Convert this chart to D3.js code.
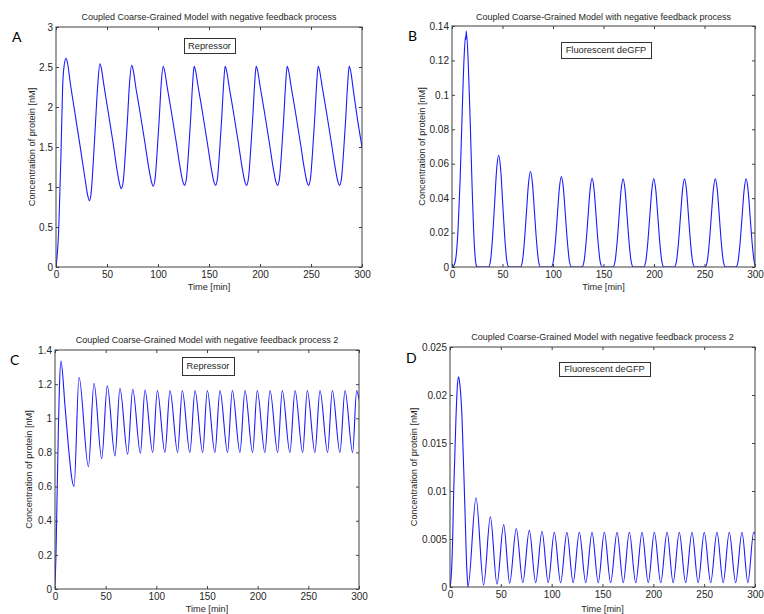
<!DOCTYPE html>
<html>
<head>
<meta charset="utf-8">
<script src="https://cdnjs.cloudflare.com/ajax/libs/d3/7.8.5/d3.min.js"></script>
<style>
	body { margin: 0; background: #fff; }
	svg { display: block; }
	text { font-family: "Liberation Sans", Arial, sans-serif; fill: #262626; }
	.panel-letter { font-family: Lato, "Open Sans", sans-serif; font-size: 14px; fill: #000; }
</style>
</head>
<body>
<svg id="chart" width="764" height="614"></svg>
<script>
var timeTicks = [0, 50, 100, 150, 200, 250, 300];
var yTicksA = [0, 0.5, 1, 1.5, 2, 2.5, 3];
var yTicksB = [0, 0.02, 0.04, 0.06, 0.08, 0.1, 0.12, 0.14];
var yTicksC = [0, 0.2, 0.4, 0.6, 0.8, 1, 1.2, 1.4];
var yTicksD = [0, 0.005, 0.01, 0.015, 0.02, 0.025];

var titleTop = "Coupled Coarse-Grained Model with negative feedback process";
var titleBottom = "Coupled Coarse-Grained Model with negative feedback process 2";
var xLabel = "Time [min]";
var yLabel = "Concentration of protein [nM]";

// [time (min), concentration (nM)]
var repressorA = [
	[0,0],[1.2,0.15],[2.5,0.42],[3.7,0.9],[4.9,1.42],[6.5,2.25],[8,2.52],[9.8,2.61],
	[11.3,2.55],[14,2.3],[18,1.97],[24,1.48],[28.5,1.1],[31,0.9],[32.8,0.83],
	[34.5,0.93],[36.5,1.3],[38.5,1.75],[40.8,2.25],[43,2.54],
	[44.5,2.48],[47,2.27],[51,1.95],[56,1.55],[60,1.2],[62.5,1.03],[64,0.98],
	[66,1.08],[68,1.42],[70,1.83],[72,2.28],[74.2,2.52],
	[75.7,2.46],[78.2,2.25],[82.2,1.95],[87.2,1.55],[91.2,1.22],[93.7,1.06],[95.2,1.01],
	[97.2,1.11],[99.2,1.45],[101.2,1.85],[103.2,2.3],[105,2.51],
	[106.5,2.45],[109,2.25],[113,1.95],[118,1.55],[122,1.22],[124.5,1.06],[126,1.02],
	[128,1.12],[130,1.45],[132,1.85],[134,2.3],[135.4,2.51],
	[136.9,2.45],[139.4,2.25],[143.4,1.95],[148.4,1.55],[152.4,1.22],[154.9,1.06],[156.4,1.02],
	[158.4,1.12],[160.4,1.45],[162.4,1.85],[164.4,2.3],[165.8,2.51],
	[167.3,2.45],[169.8,2.25],[173.8,1.95],[178.8,1.55],[182.8,1.22],[185.3,1.06],[186.8,1.02],
	[188.8,1.12],[190.8,1.45],[192.8,1.85],[194.8,2.3],[196.2,2.51],
	[197.7,2.45],[200.2,2.25],[204.2,1.95],[209.2,1.55],[213.2,1.22],[215.7,1.06],[217.2,1.02],
	[219.2,1.12],[221.2,1.45],[223.2,1.85],[225.2,2.3],[226.6,2.51],
	[228.1,2.45],[230.6,2.25],[234.6,1.95],[239.6,1.55],[243.6,1.22],[246.1,1.06],[247.6,1.02],
	[249.6,1.12],[251.6,1.45],[253.6,1.85],[255.6,2.3],[257,2.51],
	[258.5,2.45],[261,2.25],[265,1.95],[270,1.55],[274,1.22],[276.5,1.06],[278,1.02],
	[280,1.12],[282,1.45],[284,1.85],[286,2.3],[287.4,2.51],
	[288.9,2.45],[291.4,2.22],[295.4,1.86],[300,1.5]
];

var gfpB = [
	[0,0],[2,0.001],[4,0.006],[6,0.022],[8,0.05],[10,0.088],[12,0.122],[13.4,0.134],[13.7,0.132],[14.1,0.137],
	[16,0.12],[18,0.085],[20,0.045],[22,0.014],[24,0.001],[25,0],
	[36.2,0],[38.2,0.004],[40.2,0.0176],[42.2,0.037],[44.2,0.0566],[46.2,0.065],[48.2,0.0566],[50.2,0.037],[52.2,0.0176],[54.2,0.004],[56.2,0],
	[67.7,0],[69.7,0.0033],[71.7,0.015],[73.7,0.0316],[75.7,0.0483],[77.7,0.0555],[79.7,0.0483],[81.7,0.0316],[83.7,0.015],[85.7,0.0033],[87.7,0],
	[98.3,0],[100.3,0.0032],[102.3,0.0142],[104.3,0.0299],[106.3,0.0457],[108.3,0.0525],[110.3,0.0457],[112.3,0.0299],[114.3,0.0142],[116.3,0.0032],[118.3,0],
	[128.7,0],[130.7,0.0031],[132.7,0.0139],[134.7,0.0294],[136.7,0.0448],[138.7,0.0515],[140.7,0.0448],[142.7,0.0294],[144.7,0.0139],[146.7,0.0031],[148.7,0],
	[159.4,0],[161.4,0.0031],[163.4,0.0138],[165.4,0.0292],[167.4,0.0445],[169.4,0.0512],[171.4,0.0445],[173.4,0.0292],[175.4,0.0138],[177.4,0.0031],[179.4,0],
	[189.8,0],[191.8,0.0031],[193.8,0.0138],[195.8,0.0292],[197.8,0.0445],[199.8,0.0512],[201.8,0.0445],[203.8,0.0292],[205.8,0.0138],[207.8,0.0031],[209.8,0],
	[220.2,0],[222.2,0.0031],[224.2,0.0138],[226.2,0.0292],[228.2,0.0445],[230.2,0.0512],[232.2,0.0445],[234.2,0.0292],[236.2,0.0138],[238.2,0.0031],[240.2,0],
	[250.7,0],[252.7,0.0031],[254.7,0.0138],[256.7,0.0292],[258.7,0.0445],[260.7,0.0512],[262.7,0.0445],[264.7,0.0292],[266.7,0.0138],[268.7,0.0031],[270.7,0],
	[281.2,0],[283.2,0.0031],[285.2,0.0138],[287.2,0.0292],[289.2,0.0445],[291.2,0.0512],[293.2,0.0445],[295.2,0.0292],[297.2,0.0138],[299.2,0.0031],[300,0.001]
];

var repressorC = [
	[0,0.02],[1,0.21],[1.6,0.4],[2.3,0.62],[3.3,0.93],[4.3,1.17],[5.9,1.335],
	[9.9,1.07],[14.2,0.775],[16.5,0.65],[18.8,0.6],[23.7,1.24],
	[33,0.716],[38.5,1.205],[46.1,0.763],[51.6,1.19],[59.2,0.779],[64.1,1.176],
	[71.7,0.79],[76.7,1.17],[84.3,0.795],[88.8,1.166],[96.4,0.8],[101,1.163],
	[108.5,0.8],[113.5,1.163],[121,0.8],[125.6,1.163],[133.1,0.8],[138.2,1.163],
	[145.7,0.8],[150.3,1.163],[157.8,0.8],[162.8,1.163],[170.3,0.8],[175,1.163],
	[182.5,0.8],[187.5,1.163],[195,0.8],[199.6,1.163],[207.1,0.8],[212.2,1.163],
	[219.7,0.8],[224.3,1.163],[231.8,0.8],[236.9,1.163],[244.4,0.8],[249,1.163],
	[256.5,0.8],[261.5,1.163],[269,0.8],[273.7,1.163],[281.2,0.8],[286.2,1.163],
	[293.7,0.8],[297.7,1.163],[300,1.11]
];

var gfpD = [
	[0,0],[1,0.0008],[2.5,0.0045],[3.6,0.0098],[5.9,0.0177],[7.3,0.021],[8.5,0.0219],
	[9.8,0.021],[11.8,0.0177],[14.4,0.0091],[16.7,0.0015],[17.7,0.00003],
	[25.6,0.0093],[33.1,0.0002],[39.7,0.0073],[46.2,0.0003],[52.8,0.0065],[58.7,0.0004],
	[65.2,0.0061],[71.6,0.00045],[78,0.0059],[84.3,0.00045],[90.5,0.0058],[96.6,0.00045],
	[102.6,0.0057],[108.8,0.00045],[115,0.0057],[121.1,0.00045],[127.2,0.0057],[133.5,0.00045],
	[139.7,0.0057],[145.8,0.00045],[151.8,0.0057],[158,0.00045],[164.3,0.0057],[170.4,0.00045],
	[176.4,0.0057],[182.7,0.00045],[188.9,0.0057],[195,0.00045],[201,0.0057],[207.3,0.00045],
	[213.5,0.0057],[219.5,0.00045],[225.5,0.0057],[231.8,0.00045],[238,0.0057],[244.1,0.00045],
	[250.1,0.0057],[256.4,0.00045],[262.6,0.0057],[268.7,0.00045],[274.7,0.0057],[281,0.00045],
	[287.2,0.0057],[293,0.00045],[298.7,0.0057],[300,0.0055]
];

var svg = d3.select("#chart");

drawPanel({ id: "A", data: repressorA, yTicks: yTicksA, title: titleTop, legend: "Repressor",
	left: 56, right: 362, top: 27, bottom: 267, titleY: 19.5, xLabelY: 290, yLabelX: 35,
	letterX: 12, letterY: 41.5, box: [184, 38, 51, 15] });
drawPanel({ id: "B", data: gfpB, yTicks: yTicksB, title: titleTop, legend: "Fluorescent deGFP",
	left: 452, right: 755, top: 26, bottom: 267, titleY: 19.5, xLabelY: 290, yLabelX: 425,
	letterX: 408, letterY: 40.5, box: [561, 42, 90, 16] });
drawPanel({ id: "C", data: repressorC, yTicks: yTicksC, title: titleBottom, legend: "Repressor",
	left: 55, right: 359, top: 350, bottom: 589, titleY: 342.5, xLabelY: 612, yLabelX: 32,
	letterX: 10, letterY: 365, box: [182, 357, 52, 18] });
drawPanel({ id: "D", data: gfpD, yTicks: yTicksD, title: titleBottom, legend: "Fluorescent deGFP",
	left: 450, right: 755, top: 347, bottom: 587, titleY: 340, xLabelY: 612, yLabelX: 417,
	letterX: 406, letterY: 362.5, box: [559, 362, 91, 14] });

function drawPanel(p) {
	var yMax = p.yTicks[p.yTicks.length - 1];
	var x = d3.scaleLinear().domain([0, 300]).range([p.left, p.right]);
	var y = d3.scaleLinear().domain([0, yMax]).range([p.bottom, p.top]);

	var g = svg.append("g").attr("class", "panel-" + p.id);

	g.append("clipPath")
		.attr("id", "clip" + p.id)
		.append("rect")
			.attr("x", p.left)
			.attr("y", p.top)
			.attr("width", p.right - p.left)
			.attr("height", p.bottom - p.top);

	var line = d3.line()
		.x(function(d) { return x(d[0]); })
		.y(function(d) { return y(d[1]); })
		.curve(d3.curveMonotoneX);

	g.append("path")
		.datum(p.data)
		.attr("clip-path", "url(#clip" + p.id + ")")
		.attr("fill", "none")
		.attr("stroke", "#1a1aff")
		.attr("stroke-width", 1.1)
		.attr("d", line);

	// MATLAB-style box with inward ticks on all four sides
	var fmt = function(d) { return String(d); };

	g.append("g")
		.attr("transform", "translate(0," + p.bottom + ")")
		.call(d3.axisBottom(x).tickValues(timeTicks).tickFormat(fmt).tickSizeInner(-3).tickSizeOuter(0).tickPadding(4));
	g.append("g")
		.attr("transform", "translate(0," + p.top + ")")
		.call(d3.axisTop(x).tickValues(timeTicks).tickFormat("").tickSizeInner(-3).tickSizeOuter(0));
	g.append("g")
		.attr("transform", "translate(" + p.left + ",0)")
		.call(d3.axisLeft(y).tickValues(p.yTicks).tickFormat(fmt).tickSizeInner(-3).tickSizeOuter(0).tickPadding(3));
	g.append("g")
		.attr("transform", "translate(" + p.right + ",0)")
		.call(d3.axisRight(y).tickValues(p.yTicks).tickFormat("").tickSizeInner(-3).tickSizeOuter(0));

	g.selectAll(".domain").remove();
	g.selectAll(".tick line").attr("stroke", "#404040");
	g.selectAll(".tick text")
		.attr("font-size", 10)
		.attr("font-family", "'Liberation Sans', Arial, sans-serif")
		.attr("fill", "#262626");

	g.append("rect")
		.attr("x", p.left)
		.attr("y", p.top)
		.attr("width", p.right - p.left)
		.attr("height", p.bottom - p.top)
		.attr("fill", "none")
		.attr("stroke", "#404040")
		.attr("stroke-width", 1);

	g.append("text")
		.attr("x", (p.left + p.right) / 2)
		.attr("y", p.titleY)
		.attr("text-anchor", "middle")
		.attr("font-size", 9)
		.text(p.title);

	g.append("text")
		.attr("x", (p.left + p.right) / 2)
		.attr("y", p.xLabelY)
		.attr("text-anchor", "middle")
		.attr("font-size", 9.2)
		.text(xLabel);

	g.append("text")
		.attr("transform", "translate(" + p.yLabelX + "," + (p.top + p.bottom) / 2 + ") rotate(-90)")
		.attr("text-anchor", "middle")
		.attr("font-size", 9.2)
		.text(yLabel);

	g.append("text")
		.attr("class", "panel-letter")
		.attr("x", p.letterX)
		.attr("y", p.letterY)
		.text(p.id);

	var legend = g.append("g");
	legend.append("rect")
		.attr("x", p.box[0] + 0.5)
		.attr("y", p.box[1] + 0.5)
		.attr("width", p.box[2])
		.attr("height", p.box[3])
		.attr("fill", "#fff")
		.attr("stroke", "#333")
		.attr("stroke-width", 1);
	legend.append("text")
		.attr("x", p.box[0] + p.box[2] / 2)
		.attr("y", p.box[1] + p.box[3] / 2)
		.attr("dy", "0.35em")
		.attr("text-anchor", "middle")
		.attr("font-size", 9.3)
		.text(p.legend);
}
</script>
</body>
</html>
